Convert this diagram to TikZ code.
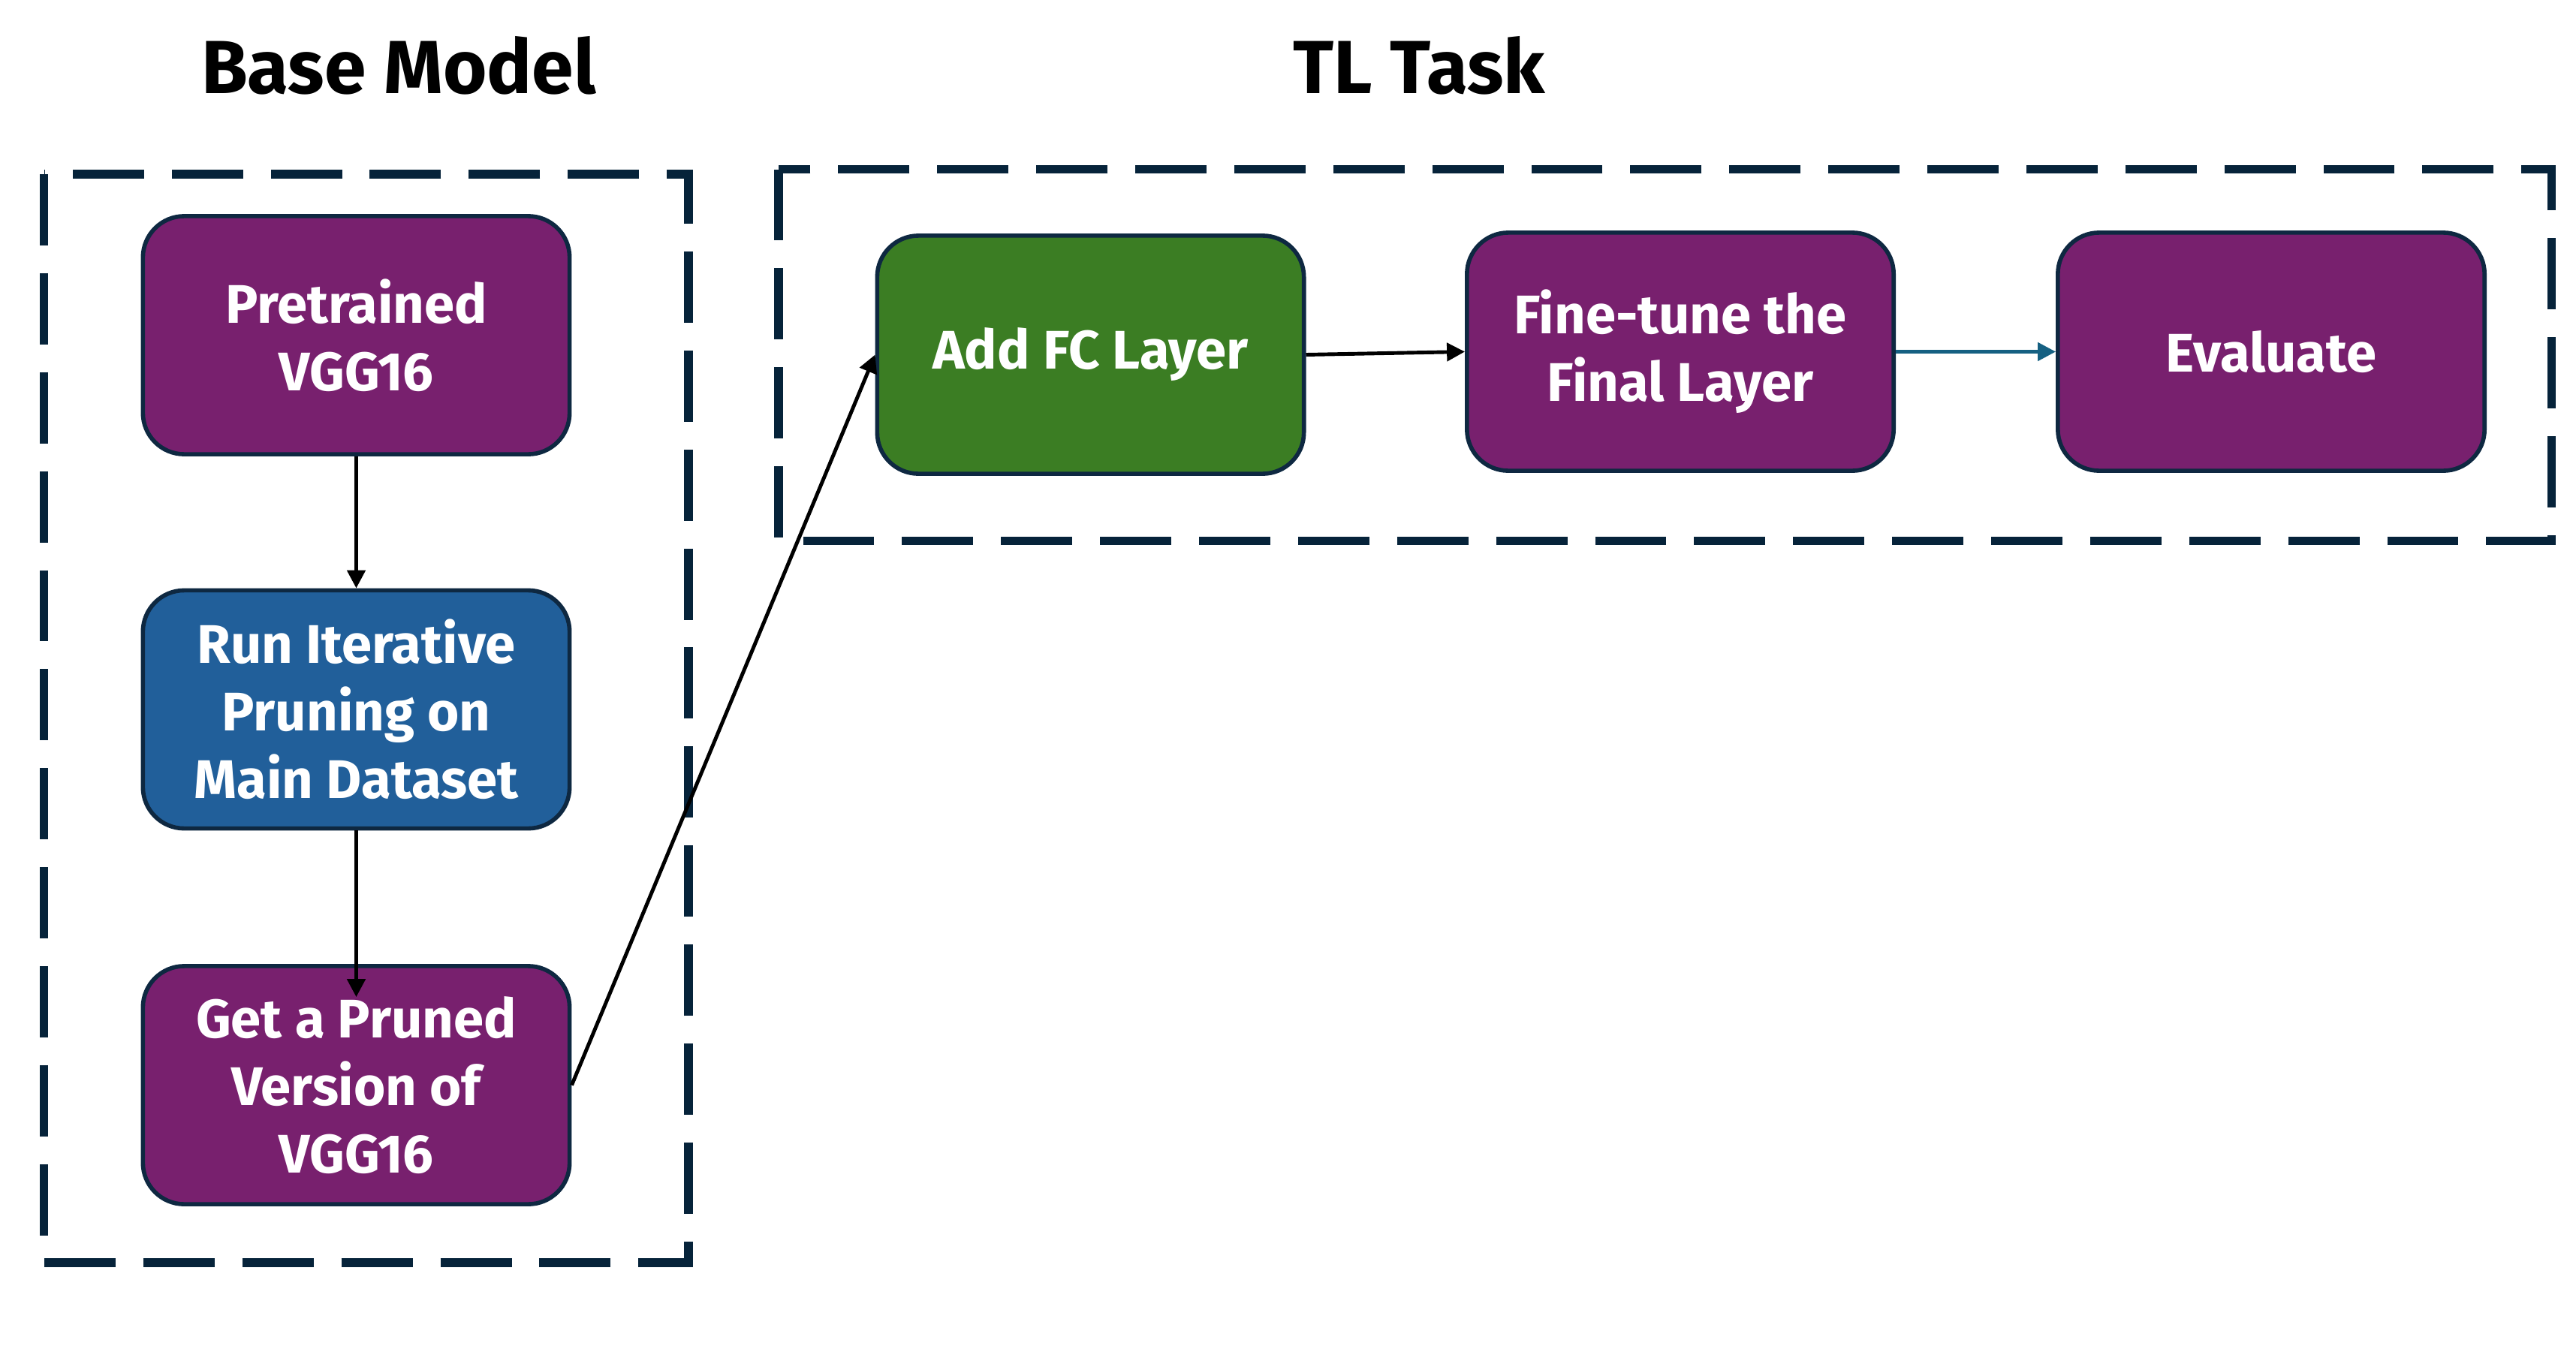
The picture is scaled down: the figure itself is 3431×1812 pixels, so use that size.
\documentclass[tikz,border=0pt]{standalone}
\usepackage{fontspec}
\setmainfont{Fira Sans}
\usetikzlibrary{arrows.meta}
\definecolor{bpurple}{HTML}{78206E}
\definecolor{bblue}{HTML}{215F9A}
\definecolor{bgreen}{HTML}{3B7D23}
\definecolor{bborder}{HTML}{0E2841}
\definecolor{bdash}{HTML}{06233A}
\definecolor{barrowblue}{HTML}{156082}
\tikzset{
  stepbox/.style={draw=bborder, line width=1.6pt, rounded corners=0.55cm,
    minimum width=5.68cm, minimum height=3.17cm, inner sep=0pt, align=center,
    text=white, font=\fontsize{20.6}{25.6}\selectfont\bfseries},
  groupbox/.style={draw=bdash, line width=3.2pt, dash pattern=on 27pt off 10.5pt},
  conn/.style={line width=1.4pt, -{Triangle[length=6.8pt,width=6.8pt]}},
  title/.style={font=\fontsize{28.5}{30}\selectfont\bfseries, anchor=base, text=black}
}
\begin{document}
\begin{tikzpicture}[x=0.01cm,y=-0.01cm]
\useasboundingbox (0,0) rectangle (3431,1812);
\fill[white] (0,0) rectangle (3431,1812);
% group boxes
\draw[groupbox] (58.5,232) rectangle (917,1682);
\draw[groupbox] (1037,225.5) rectangle (3398.5,720.5);
% titles
\node[title] (t1) at (531,124) {Base Model};
\node[title] (t2) at (1890,124) {TL Task};
% nodes
\node[stepbox, fill=bpurple] (pre) at (474.5,446.5) {Pretrained\\VGG16};
\node[stepbox, fill=bblue] (run) at (474.5,945) {Run Iterative\\Pruning on\\Main Dataset};
\node[stepbox, fill=bpurple] (get) at (474.5,1445.5) {Get a Pruned\\Version of\\VGG16};
\node[stepbox, fill=bgreen] (add) at (1452.5,472.5) {Add FC Layer};
\node[stepbox, fill=bpurple] (fine) at (2238,468.5) {Fine-tune the\\Final Layer};
\node[stepbox, fill=bpurple] (eval) at (3025,468.5) {Evaluate};
% connectors
\draw[conn] (pre.south) -- (run.north);
\draw[conn] (run.south) -- ([yshift=-0.44cm]get.north);
\draw[conn] (get.east) -- (add.west);
\draw[conn] (add.east) -- (fine.west);
\draw[conn, draw=barrowblue, fill=barrowblue] (fine.east) -- (eval.west);
\end{tikzpicture}
\end{document}
